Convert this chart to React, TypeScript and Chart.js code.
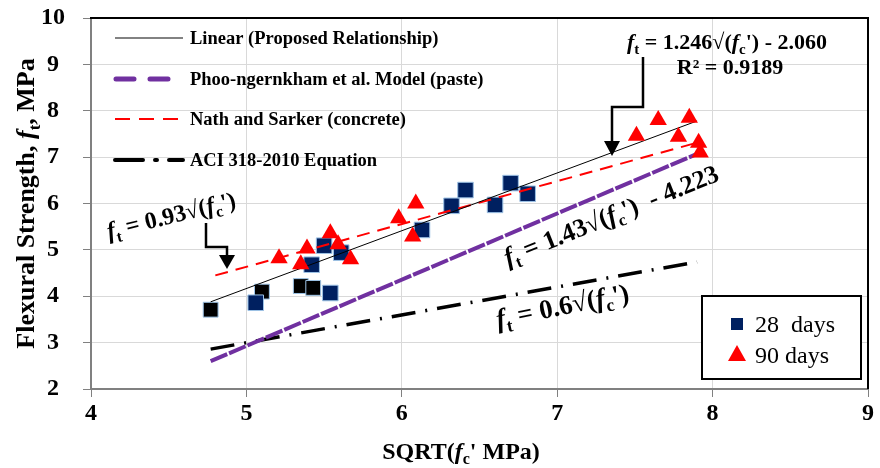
import React, { useEffect, useRef } from "react";
import { Chart, registerables } from "chart.js";

Chart.register(...registerables);

// ---- Data ----
const sq28X = [5.06, 5.42, 5.5, 5.61, 5.54, 6.13, 6.32, 6.41, 6.6, 6.7, 6.81];
const sq28Y = [3.86, 4.68, 5.09, 4.94, 4.07, 5.43, 5.95, 6.29, 5.97, 6.44, 6.21];
const sq28bX = [4.77, 5.1, 5.35, 5.43];
const sq28bY = [3.71, 4.1, 4.22, 4.18];
const tri90X = [5.21, 5.35, 5.39, 5.54, 5.59, 5.67, 5.98, 6.07, 6.09, 7.51, 7.65, 7.85, 7.78, 7.91, 7.92];
const tri90Y = [4.82, 4.69, 5.03, 5.36, 5.12, 4.8, 5.68, 5.29, 6.0, 7.46, 7.8, 7.85, 7.44, 7.31, 7.1];

const linearX = [4.77, 7.9];
const linearY = [3.88, 7.78];
const nathX = [4.8, 7.92];
const nathY = [4.45, 7.33];
const phooX = [4.77, 7.9];
const phooY = [2.6, 7.07];
const aciX = [4.77, 7.9];
const aciY = [2.86, 4.74];

const legendLabels = [
  "Linear (Proposed Relationship)",
  "Phoo-ngernkham et al. Model (paste)",
  "Nath and Sarker (concrete)",
  "ACI 318-2010 Equation",
];
const seriesLabels = ["28  days", "90 days"];

type Seg = { t: string; i?: boolean; sub?: boolean; sup?: boolean };

const eqLinear: Seg[] = [
  { t: "f", i: true }, { t: "t", sub: true }, { t: " = 1.246\u221A(" }, { t: "f", i: true }, { t: "c", sub: true }, { t: "') - 2.060" },
];
const eqR2: Seg[] = [{ t: "R\u00B2 = 0.9189" }];
const eqNath: Seg[] = [
  { t: "f", i: true }, { t: "t", sub: true }, { t: " = 0.93\u221A(" }, { t: "f", i: true }, { t: "c", sub: true }, { t: "')" },
];
const eqPhoo: Seg[] = [
  { t: "f", i: true }, { t: "t", sub: true }, { t: " = 1.43\u221A(" }, { t: "f", i: true }, { t: "c", sub: true }, { t: "')  - 4.223" },
];
const eqAci: Seg[] = [
  { t: "f", i: true }, { t: "t", sub: true }, { t: " = 0.6\u221A(" }, { t: "f", i: true }, { t: "c", sub: true }, { t: "')" },
];
const yTitle: Seg[] = [{ t: "Flexural Strength, " }, { t: "f", i: true }, { t: "t", sub: true }, { t: ", MPa" }];
const xTitle: Seg[] = [{ t: "SQRT(" }, { t: "f", i: true }, { t: "c", sub: true }, { t: "' MPa)" }];

const FONT = '"Liberation Serif", "Times New Roman", serif';

function pts(xs: number[], ys: number[]) {
  return xs.map((x, i) => ({ x, y: ys[i] }));
}

function richText(
  ctx: CanvasRenderingContext2D,
  segs: Seg[],
  x: number,
  y: number,
  size: number,
  bold: boolean,
  align: "left" | "center",
  angle: number
) {
  ctx.save();
  ctx.translate(x, y);
  ctx.rotate((angle * Math.PI) / 180);
  const fontFor = (s: Seg) =>
    `${s.i ? "italic " : ""}${bold ? "bold " : ""}${s.sub || s.sup ? Math.round(size * 0.66) : size}px ${FONT}`;
  const widths = segs.map((s) => {
    ctx.font = fontFor(s);
    return ctx.measureText(s.t).width;
  });
  const total = widths.reduce((a, b) => a + b, 0);
  let cx = align === "center" ? -total / 2 : 0;
  ctx.textAlign = "left";
  ctx.textBaseline = "alphabetic";
  ctx.fillStyle = "#000";
  segs.forEach((s, k) => {
    ctx.font = fontFor(s);
    const dy = s.sub ? size * 0.22 : s.sup ? -size * 0.4 : 0;
    ctx.fillText(s.t, cx, dy);
    cx += widths[k];
  });
  ctx.restore();
}

function arrow(ctx: CanvasRenderingContext2D, path: number[][], headLen: number, headW: number) {
  ctx.save();
  ctx.strokeStyle = "#000";
  ctx.fillStyle = "#000";
  ctx.lineWidth = 2.5;
  ctx.beginPath();
  ctx.moveTo(path[0][0], path[0][1]);
  for (let i = 1; i < path.length; i++) ctx.lineTo(path[i][0], path[i][1]);
  ctx.stroke();
  const [tx, ty] = path[path.length - 1];
  ctx.beginPath();
  ctx.moveTo(tx, ty + headLen);
  ctx.lineTo(tx - headW / 2, ty);
  ctx.lineTo(tx + headW / 2, ty);
  ctx.closePath();
  ctx.fill();
  ctx.restore();
}

const decorPlugin = {
  id: "decor",
  afterDraw(chart: any) {
    const ctx: CanvasRenderingContext2D = chart.ctx;
    const a = chart.chartArea;
    ctx.save();
    // top and right border
    ctx.strokeStyle = "#000";
    ctx.lineWidth = 2;
    ctx.beginPath();
    ctx.moveTo(a.left - 1, a.top);
    ctx.lineTo(a.right, a.top);
    ctx.lineTo(a.right, a.bottom);
    ctx.stroke();

    // top-left legend
    const rows = [38, 79, 119, 160];
    const styles = [
      { c: "#595959", w: 1.5, d: [] as number[] },
      { c: "#7030a0", w: 5, d: [18, 16] },
      { c: "#ff0000", w: 2, d: [15, 9] },
      { c: "#000", w: 4, d: [28, 12, 2, 12] },
    ];
    rows.forEach((ry, i) => {
      const st = styles[i];
      ctx.save();
      ctx.strokeStyle = st.c;
      ctx.lineWidth = st.w;
      ctx.lineCap = i === 1 || i === 3 ? "round" : "butt";
      ctx.setLineDash(st.d);
      ctx.beginPath();
      ctx.moveTo(i === 1 ? 116 : 115, ry);
      ctx.lineTo(183, ry);
      ctx.stroke();
      ctx.restore();
      ctx.fillStyle = "#000";
      ctx.font = `bold 18.5px ${FONT}`;
      ctx.textAlign = "left";
      ctx.textBaseline = "middle";
      ctx.fillText(legendLabels[i], 190, ry + 1);
    });

    // bottom-right legend box
    ctx.fillStyle = "#fff";
    ctx.fillRect(702, 296, 159, 83);
    ctx.strokeStyle = "#000";
    ctx.lineWidth = 2;
    ctx.strokeRect(702, 296, 159, 83);
    ctx.fillStyle = "#002060";
    ctx.fillRect(731, 318, 12, 12);
    ctx.fillStyle = "#ff0000";
    ctx.beginPath();
    ctx.moveTo(737, 345);
    ctx.lineTo(746, 361);
    ctx.lineTo(728, 361);
    ctx.closePath();
    ctx.fill();
    ctx.fillStyle = "#000";
    ctx.font = `24px ${FONT}`;
    ctx.textBaseline = "alphabetic";
    ctx.fillText(seriesLabels[0], 755, 332);
    ctx.fillText(seriesLabels[1], 755, 363);

    // equations
    richText(ctx, eqLinear, 727, 49, 22, true, "center", 0);
    richText(ctx, eqR2, 730, 74, 22, true, "center", 0);
    richText(ctx, eqNath, 109, 239, 24, true, "left", -14);
    richText(ctx, eqPhoo, 508, 266, 26, true, "left", -22);
    richText(ctx, eqAci, 498, 328, 27, true, "left", -11.5);

    // arrows
    arrow(ctx, [[643, 57], [643, 107], [612, 107], [612, 141]], 15, 16);
    arrow(ctx, [[206, 223], [206, 247], [227, 247], [227, 255]], 14, 16);

    // axis titles
    richText(ctx, yTitle, 34, (a.top + a.bottom) / 2, 26, true, "center", -90);
    richText(ctx, xTitle, 461, 459, 24, true, "center", 0);
    ctx.restore();
  },
};

export default function App() {
  const ref = useRef<HTMLCanvasElement | null>(null);
  useEffect(() => {
    document.body.style.margin = "0";
    const canvas = ref.current;
    if (!canvas) return;
    const tickFont = { family: FONT, size: 24, weight: "bold" as const };
    const chart = new Chart(canvas, {
      type: "scatter",
      data: {
        datasets: [
          {
            label: "90 days",
            data: pts(tri90X, tri90Y),
            pointStyle: "triangle",
            pointRadius: 10,
            backgroundColor: "#ff0000",
            borderColor: "#ff0000",
            borderWidth: 0,
            order: 0,
          },
          {
            label: legendLabels[0],
            data: pts(linearX, linearY),
            showLine: true,
            pointRadius: 0,
            borderColor: "#000",
            borderWidth: 1,
            order: 1,
          },
          {
            label: legendLabels[2],
            data: pts(nathX, nathY),
            showLine: true,
            pointRadius: 0,
            borderColor: "#ff0000",
            borderWidth: 2,
            borderDash: [13, 8],
            order: 1,
          },
          {
            label: legendLabels[1],
            data: pts(phooX, phooY),
            showLine: true,
            pointRadius: 0,
            borderColor: "#7030a0",
            borderWidth: 4,
            borderDash: [18, 2],
            order: 1,
          },
          {
            label: legendLabels[3],
            data: pts(aciX, aciY),
            showLine: true,
            pointRadius: 0,
            borderColor: "#000",
            borderWidth: 3.5,
            borderDash: [24, 10, 2, 10],
            order: 1,
          },
          {
            label: "28 days",
            data: pts(sq28X, sq28Y),
            pointStyle: "rect",
            pointRadius: 11,
            backgroundColor: "#002060",
            borderColor: "#9dc3e6",
            borderWidth: 1,
            order: 2,
          },
          {
            label: "28 days b",
            data: pts(sq28bX, sq28bY),
            pointStyle: "rect",
            pointRadius: 10.5,
            backgroundColor: "#000",
            borderColor: "#9dc3e6",
            borderWidth: 1,
            order: 2,
          },
        ],
      },
      options: {
        animation: false,
        responsive: false,
        layout: { padding: { top: 18, right: 8, left: 0, bottom: 0 } },
        plugins: { legend: { display: false }, tooltip: { enabled: false } },
        scales: {
          x: {
            type: "linear",
            min: 4,
            max: 9,
            ticks: { stepSize: 1, font: tickFont, color: "#000", padding: 2 },
            grid: { color: "#d9d9d9", tickColor: "#808080", tickLength: 8 },
            border: { color: "#808080", width: 2 },
            afterFit: (s: any) => {
              s.height = 79;
              s.paddingLeft = 0;
              s.paddingRight = 0;
            },
          },
          y: {
            type: "linear",
            min: 2,
            max: 10,
            ticks: { stepSize: 1, font: tickFont, color: "#000", padding: 18, crossAlign: "center" },
            grid: { color: "#d9d9d9", tickColor: "#808080", tickLength: 8 },
            border: { color: "#808080", width: 2 },
            afterFit: (s: any) => {
              s.width = 91;
              s.paddingTop = 0;
              s.paddingBottom = 0;
            },
          },
        },
      },
      plugins: [decorPlugin],
    });
    return () => chart.destroy();
  }, []);
  return <canvas ref={ref} width={880} height={468} style={{ display: "block" }} />;
}
